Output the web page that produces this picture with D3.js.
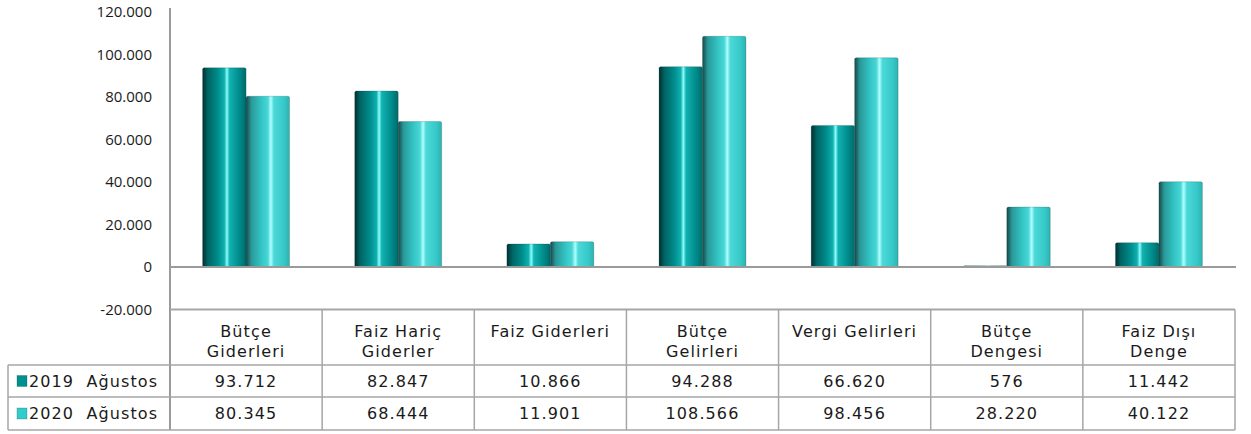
<!DOCTYPE html>
<html>
<head>
<meta charset="utf-8">
<script src="https://cdn.jsdelivr.net/npm/d3@7"></script>
<style>
  body { margin: 0; background: #fff; }
  svg { display: block; }
  text { white-space: pre; }
</style>
</head>
<body>
<svg id="chart"></svg>
<script>
// veriler
const categories = ["Bütçe Giderleri", "Faiz Hariç Giderler", "Faiz Giderleri", "Bütçe Gelirleri", "Vergi Gelirleri", "Bütçe Dengesi", "Faiz Dışı Denge"];
const headerLines = [["Bütçe", "Giderleri"], ["Faiz Hariç", "Giderler"], ["Faiz Giderleri"], ["Bütçe", "Gelirleri"], ["Vergi Gelirleri"], ["Bütçe", "Dengesi"], ["Faiz Dışı", "Denge"]];
const seriesNames = ["2019  Ağustos", "2020  Ağustos"];
const values2019 = [93712, 82847, 10866, 94288, 66620, 576, 11442];
const values2020 = [80345, 68444, 11901, 108566, 98456, 28220, 40122];
const yTicks = [-20000, 0, 20000, 40000, 60000, 80000, 100000, 120000];

const WIDTH = 1251, HEIGHT = 434;
const left = 170, right = 1235;
const rowTop = 309.5, headerBottom = 365, row1Bottom = 397, row2Bottom = 430;

const svg = d3.select("#chart").attr("width", WIDTH).attr("height", HEIGHT);

const trLocale = d3.formatLocale({decimal: ",", thousands: ".", grouping: [3], currency: ["", ""], minus: "-"});
const fmt = trLocale.format(",d");

// echelles
const x = d3.scaleBand().domain(categories).range([left, right]).padding(0);
const xs = d3.scaleBand().domain(seriesNames).range([0, x.bandwidth()]).paddingInner(0).paddingOuter(0.75);
const y = d3.scaleLinear().domain([-20000, 120000]).range([rowTop, 12]);

// degrades cylindriques
const defs = svg.append("defs");
function cylGrad(id, stops) {
  const g = defs.append("linearGradient").attr("id", id).attr("x1", "0%").attr("x2", "100%").attr("y1", "0%").attr("y2", "0%");
  stops.forEach(s => g.append("stop").attr("offset", s[0]).attr("stop-color", s[1]));
}
cylGrad("g2019", [["0%", "#032f2f"], ["12%", "#006363"], ["35%", "#008c8c"], ["50%", "#10b0b0"], ["56%", "#8ffcfc"], ["62%", "#12b2b2"], ["85%", "#008a8a"], ["100%", "#006a6a"]]);
cylGrad("g2020", [["0%", "#164848"], ["12%", "#2a9898"], ["35%", "#33c4c4"], ["50%", "#48d6d6"], ["57%", "#b0ffff"], ["64%", "#4cd8d8"], ["88%", "#36c8c8"], ["100%", "#2fb0b0"]]);
const fills = {"2019  Ağustos": "url(#g2019)", "2020  Ağustos": "url(#g2020)"};
const solid = {"2019  Ağustos": "#00908f", "2020  Ağustos": "#33cccc"};

// axe y
const yAxis = svg.append("g").attr("transform", `translate(${left - 18},0)`);
yAxis.selectAll("text").data(yTicks).join("text")
  .attr("x", 0).attr("y", d => y(d)).attr("dy", "0.35em")
  .attr("text-anchor", "end")
  .style("font-family", "'Open Sans', sans-serif").style("font-size", "15px").style("fill", "#1a1a1a")
  .text(d => fmt(d));

// barres
const data = categories.map((c, i) => ({cat: c, vals: [
  {s: seriesNames[0], v: values2019[i]},
  {s: seriesNames[1], v: values2020[i]}
]}));

const groups = svg.append("g").selectAll("g").data(data).join("g")
  .attr("transform", d => `translate(${x(d.cat)},0)`);

groups.selectAll("rect").data(d => d.vals).join("rect")
  .attr("x", d => xs(d.s))
  .attr("y", d => y(Math.max(0, d.v)))
  .attr("width", xs.bandwidth())
  .attr("height", d => Math.abs(y(d.v) - y(0)))
  .attr("rx", 1.5)
  .attr("fill", d => fills[d.s])
  .attr("stroke", "#0b3c3c").attr("stroke-opacity", 0.35).attr("stroke-width", 0.6);

// lignes des axes
svg.append("line").attr("x1", left).attr("x2", right + 1).attr("y1", y(0)).attr("y2", y(0))
  .attr("stroke", "#9a9a9a").attr("stroke-width", 2);
svg.append("line").attr("x1", left).attr("x2", left).attr("y1", 8).attr("y2", row2Bottom)
  .attr("stroke", "#9a9a9a").attr("stroke-width", 2);

// tableau de donnees
const tbl = svg.append("g").attr("stroke", "#a6a6a6").attr("stroke-width", 1.5).attr("fill", "none");
tbl.append("line").attr("x1", left).attr("x2", right).attr("y1", rowTop).attr("y2", rowTop).attr("stroke-width", 2);
[headerBottom, row1Bottom, row2Bottom].forEach(yy =>
  tbl.append("line").attr("x1", 8).attr("x2", right).attr("y1", yy).attr("y2", yy));
tbl.append("line").attr("x1", 8).attr("x2", 8).attr("y1", headerBottom).attr("y2", row2Bottom);
categories.forEach(c =>
  tbl.append("line").attr("x1", x(c) + x.bandwidth()).attr("x2", x(c) + x.bandwidth()).attr("y1", rowTop).attr("y2", row2Bottom));

const txt = svg.append("g").style("font-family", "'DejaVu Sans', sans-serif").style("font-size", "16px")
  .style("letter-spacing", "1.1px").style("fill", "#1a1a1a")
  .attr("text-anchor", "middle");

// en-tetes
categories.forEach((c, i) => {
  headerLines[i].forEach((ln, j) => {
    txt.append("text").attr("x", x(c) + x.bandwidth() / 2).attr("y", 337 + j * 20).text(ln);
  });
});

// lignes de valeurs
const rowY = [(headerBottom + row1Bottom) / 2, (row1Bottom + row2Bottom) / 2];
[values2019, values2020].forEach((vals, r) => {
  vals.forEach((v, i) => {
    txt.append("text").attr("x", x(categories[i]) + x.bandwidth() / 2).attr("y", rowY[r]).attr("dy", "0.36em").text(fmt(v));
  });
  // legende
  svg.append("rect").attr("x", 17).attr("y", rowY[r] - 5.5).attr("width", 10).attr("height", 11)
    .attr("fill", solid[seriesNames[r]]).attr("stroke", "#0b3c3c").attr("stroke-opacity", 0.4).attr("stroke-width", 0.6);
  txt.append("text").attr("x", 29).attr("y", rowY[r]).attr("dy", "0.36em").attr("text-anchor", "start").text(seriesNames[r]);
});
</script>
</body>
</html>
